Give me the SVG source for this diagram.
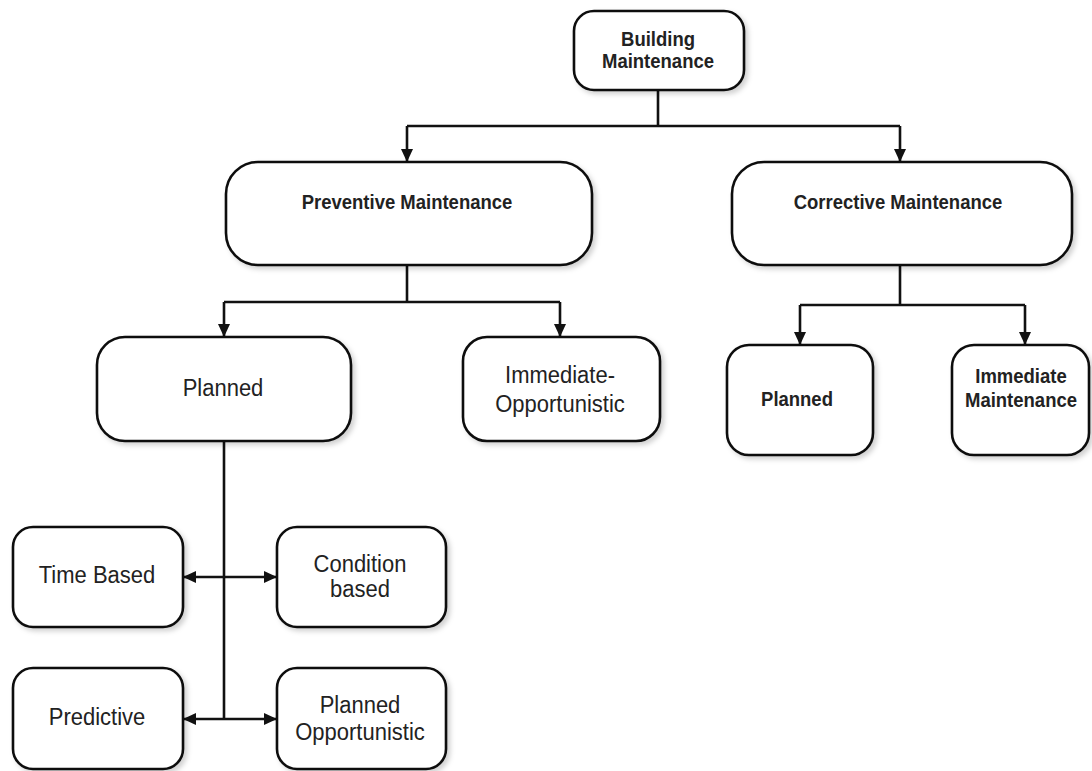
<svg xmlns="http://www.w3.org/2000/svg" width="1092" height="771" viewBox="0 0 1092 771">
  <style>
    .box { fill: #ffffff; stroke: #111111; stroke-width: 2.6; filter: url(#shadow); }
    .wire { fill: none; stroke: #111111; stroke-width: 2.6; }
    .b { font-family: "Liberation Sans", Arial, sans-serif; font-weight: bold; font-size: 18.5px; fill: #222222; text-anchor: middle; }
    .r { font-family: "Liberation Sans", Arial, sans-serif; font-size: 22px; fill: #222222; text-anchor: middle; }
  </style>
  <defs>
    <filter id="shadow" x="-10%" y="-10%" width="130%" height="130%">
      <feDropShadow dx="3" dy="3" stdDeviation="2.5" flood-color="#000000" flood-opacity="0.18"/>
    </filter>
    <marker id="head" viewBox="0 0 13 12" refX="13" refY="6" markerWidth="13" markerHeight="12" markerUnits="userSpaceOnUse" orient="auto-start-reverse">
      <path d="M0,0 L13,6 L0,12 Z" fill="#111111"/>
    </marker>
  </defs>
  <rect width="1092" height="771" fill="#ffffff"/>

  <!-- connectors -->
  <g id="connectors">
    <path class="wire" d="M658,90 V126"/>
    <path class="wire" d="M407,126 H900"/>
    <path class="wire" d="M407,126 V162" marker-end="url(#head)"/>
    <path class="wire" d="M900,126 V162" marker-end="url(#head)"/>

    <path class="wire" d="M407,265 V302"/>
    <path class="wire" d="M224,302 H560"/>
    <path class="wire" d="M224,302 V337" marker-end="url(#head)"/>
    <path class="wire" d="M560,302 V337" marker-end="url(#head)"/>

    <path class="wire" d="M900,265 V305"/>
    <path class="wire" d="M800,305 H1025"/>
    <path class="wire" d="M800,305 V345" marker-end="url(#head)"/>
    <path class="wire" d="M1025,305 V345" marker-end="url(#head)"/>

    <path class="wire" d="M224,441 V719"/>
    <path class="wire" d="M183,577 H277" marker-start="url(#head)" marker-end="url(#head)"/>
    <path class="wire" d="M183,719 H277" marker-start="url(#head)" marker-end="url(#head)"/>
  </g>

  <g id="building-maintenance">
    <rect class="box" x="574" y="11" width="170" height="79" rx="20"/>
    <text class="b" transform="translate(658 46) scale(1 1.12)">Building</text>
    <text class="b" transform="translate(658 68) scale(1 1.12)">Maintenance</text>
  </g>

  <g id="preventive-maintenance">
    <rect class="box" x="226" y="162" width="366" height="103" rx="32"/>
    <text class="b" transform="translate(407 209) scale(1 1.12)">Preventive Maintenance</text>
  </g>

  <g id="corrective-maintenance">
    <rect class="box" x="732" y="162" width="340" height="103" rx="32"/>
    <text class="b" transform="translate(898 209) scale(1 1.12)">Corrective Maintenance</text>
  </g>

  <g id="planned">
    <rect class="box" x="97" y="337" width="254" height="104" rx="28"/>
    <text class="r" transform="translate(223 396) scale(1 1.12)">Planned</text>
  </g>

  <g id="immediate-opportunistic">
    <rect class="box" x="463" y="337" width="197" height="104" rx="24"/>
    <text class="r" transform="translate(560 383) scale(1 1.12)">Immediate-</text>
    <text class="r" transform="translate(560 412) scale(1 1.12)">Opportunistic</text>
  </g>

  <g id="corrective-planned">
    <rect class="box" x="727" y="345" width="146" height="110" rx="22"/>
    <text class="b" transform="translate(797 406) scale(1 1.12)">Planned</text>
  </g>

  <g id="immediate-maintenance">
    <rect class="box" x="952" y="345" width="137" height="110" rx="22"/>
    <text class="b" transform="translate(1021 383) scale(1 1.12)">Immediate</text>
    <text class="b" transform="translate(1021 407) scale(1 1.12)">Maintenance</text>
  </g>

  <g id="time-based">
    <rect class="box" x="13" y="527" width="170" height="100" rx="20"/>
    <text class="r" transform="translate(97 583) scale(1 1.12)">Time Based</text>
  </g>

  <g id="condition-based">
    <rect class="box" x="277" y="527" width="169" height="100" rx="20"/>
    <text class="r" transform="translate(360 572) scale(1 1.12)">Condition</text>
    <text class="r" transform="translate(360 597) scale(1 1.12)">based</text>
  </g>

  <g id="predictive">
    <rect class="box" x="13" y="668" width="170" height="101" rx="20"/>
    <text class="r" transform="translate(97 725) scale(1 1.12)">Predictive</text>
  </g>

  <g id="planned-opportunistic">
    <rect class="box" x="277" y="668" width="169" height="101" rx="20"/>
    <text class="r" transform="translate(360 713) scale(1 1.12)">Planned</text>
    <text class="r" transform="translate(360 740) scale(1 1.12)">Opportunistic</text>
  </g>
</svg>
